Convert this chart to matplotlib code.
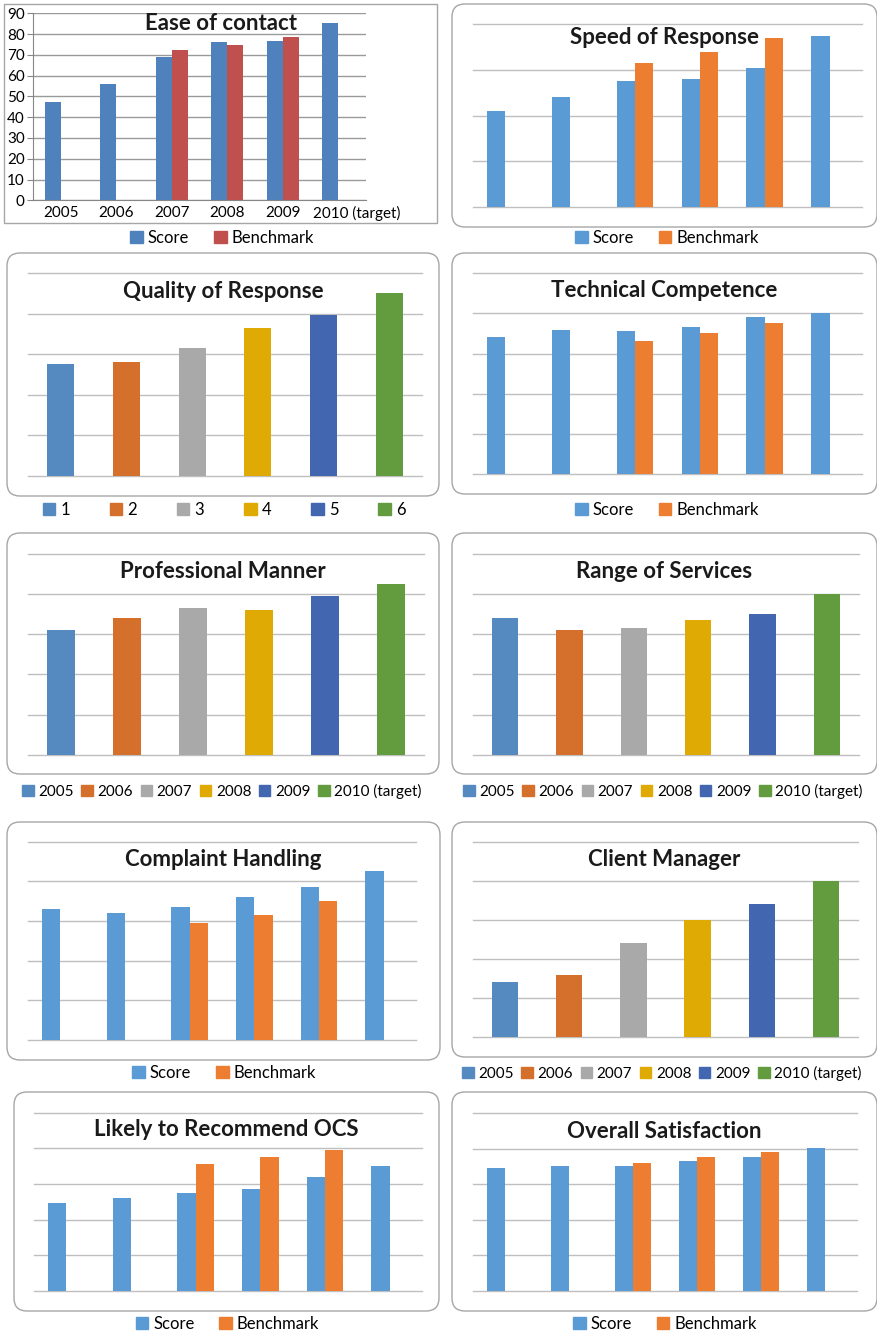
import numpy as np
import matplotlib
matplotlib.use("Agg")
import matplotlib.pyplot as plt
from matplotlib.patches import FancyBboxPatch, Rectangle, Patch

plt.rcParams['font.family'] = ['Lato', 'DejaVu Sans']

W, H = 878, 1335
nan = np.nan

# --- data -------------------------------------------------------------
years = ['2005', '2006', '2007', '2008', '2009', '2010 (target)']
numbers = ['1', '2', '3', '4', '5', '6']

ease_score = [47.3, 56.0, 69.0, 76.2, 76.7, 85.4]
ease_bench = [nan, nan, 72.4, 74.8, 78.6, nan]

speed_score = [42.0, 48.0, 55.0, 55.9, 60.8, 74.9]
speed_bench = [nan, nan, 62.9, 67.9, 73.9, nan]

quality = [55.2, 56.2, 63.1, 73.0, 79.4, 90.3]

tech_score = [68.2, 72.0, 71.1, 73.1, 78.1, 80.1]
tech_bench = [nan, nan, 66.2, 70.1, 75.1, nan]

manner = [62.0, 68.0, 73.0, 72.0, 78.9, 84.9]
services = [68.0, 62.0, 63.0, 67.0, 70.0, 79.9]

complaint_score = [66.0, 64.0, 67.0, 72.1, 76.9, 85.0]
complaint_bench = [nan, nan, 58.9, 63.0, 70.0, nan]

client = [28.3, 31.9, 48.3, 60.2, 68.3, 80.0]

recommend_score = [49.1, 51.9, 54.9, 56.9, 63.9, 70.0]
recommend_bench = [nan, nan, 71.0, 75.1, 78.8, nan]

overall_score = [69.0, 70.2, 70.2, 73.0, 75.2, 80.1]
overall_bench = [nan, nan, 72.0, 75.2, 78.0, nan]

# colours
SCORE = '#5b9bd5'
BENCH = '#ed7d31'
SCORE_07 = '#4f81bd'
BENCH_07 = '#c0504d'
year_colors = ['#558ac1', '#d4702c', '#a9a9a9', '#e0aa05', '#4266b0', '#639b3f']
GRID = '#bfbfbf'
FRAME = '#a6a6a6'

fig = plt.figure(figsize=(W / 100, H / 100), dpi=100)


def px_axes(x0, y0, x1, y1):
    return fig.add_axes([x0 / W, 1 - y1 / H, (x1 - x0) / W, (y1 - y0) / H])


def frame(x0, y0, x1, y1, rounded=True):
    # panel outline, in inches from the bottom-left corner
    if rounded:
        p = FancyBboxPatch((x0 / 100, (H - y1) / 100), (x1 - x0) / 100, (y1 - y0) / 100,
                           boxstyle="round,pad=0,rounding_size=0.13",
                           transform=fig.dpi_scale_trans, fc='none', ec=FRAME, lw=1.0)
    else:
        p = Rectangle((x0 / 100, (H - y1) / 100), (x1 - x0) / 100, (y1 - y0) / 100,
                      transform=fig.dpi_scale_trans, fc='none', ec=FRAME, lw=1.0)
    fig.add_artist(p)


def title(text, cx, cy):
    fig.text(cx / W, 1 - cy / H, text, ha='center', va='center',
             fontsize=16, fontweight='bold', color='#1a1a1a', zorder=10)


def legend(ax, handles, labels, cx, cy, colspace, size=12):
    ax.legend(handles, labels, loc='center', bbox_to_anchor=(cx / W, 1 - cy / H),
              bbox_transform=fig.transFigure, ncol=len(labels), frameon=False,
              fontsize=size, handlelength=0.75, handleheight=0.75, handletextpad=0.3,
              columnspacing=colspace, borderaxespad=0, borderpad=0)


def plain_axes(ax, top, step):
    ax.set_xlim(-0.5, 5.5)
    ax.set_ylim(0, top)
    for v in np.arange(0, top + step / 2, step):
        ax.axhline(v, color=GRID, lw=1.0, zorder=0, clip_on=False)
    ax.axis('off')


def pair_panel(box, axbox, name, tcy, score, bench, legy, legx, top=100):
    frame(*box)
    ax = px_axes(*axbox)
    x = np.arange(len(years))
    w = 0.283
    ax.bar(x - w / 2, score, w, color=SCORE, zorder=2)
    ax.bar(x + w / 2, bench, w, color=BENCH, zorder=2)
    plain_axes(ax, top, 20)
    title(name, (box[0] + box[2]) / 2, tcy)
    legend(ax, [Patch(color=SCORE), Patch(color=BENCH)], ['Score', 'Benchmark'],
           legx, legy, 1.5)


def year_panel(box, axbox, name, tcy, vals, labels, legy, legx, colspace, size=11):
    frame(*box)
    ax = px_axes(*axbox)
    x = np.arange(len(vals))
    ax.bar(x, vals, 0.41, color=year_colors, zorder=2)
    plain_axes(ax, 100, 20)
    title(name, (box[0] + box[2]) / 2, tcy)
    legend(ax, [Patch(color=c) for c in year_colors], labels, legx, legy, colspace, size)


# --- Ease of contact (with value axis) --------------------------------
frame(4, 4, 437, 223, rounded=False)
ax = px_axes(33, 13.3, 366, 200.3)
x = np.arange(len(years))
w = 0.29
ax.bar(x - w / 2, ease_score, w, color=SCORE_07, zorder=2)
ax.bar(x + w / 2, ease_bench, w, color=BENCH_07, zorder=2)
ax.set_xlim(-0.5, 5.5)
ax.set_ylim(0, 90)
ax.set_yticks(np.arange(0, 91, 10))
ax.yaxis.grid(True, color='#9a9a9a', lw=1.0)
ax.set_axisbelow(True)
# the long last label sits a little right of its bar
ax.set_xticks([0, 1, 2, 3, 4, 5.33])
ax.set_xticklabels(years)
ax.tick_params(axis='y', labelsize=11, length=4, color='#868686', pad=2)
ax.tick_params(axis='x', labelsize=11, length=0, pad=4)
for s in ['top', 'right']:
    ax.spines[s].set_visible(False)
for s in ['left', 'bottom']:
    ax.spines[s].set_color('#868686')
title('Ease of contact', 221, 23)
legend(ax, [Patch(color=SCORE_07), Patch(color=BENCH_07)], ['Score', 'Benchmark'],
       222, 238, 1.5)

# --- remaining panels -------------------------------------------------
pair_panel((452, 4, 877, 227), (473, 24.3, 862, 206.7), 'Speed of Response', 38,
           speed_score, speed_bench, 238, 667, top=80)

year_panel((7, 253, 439, 496), (28, 273.3, 422, 475.7), 'Quality of Response', 291.7,
           quality, numbers, 510, 224, 2.4, size=12)

pair_panel((452, 253, 877, 494), (473, 273.3, 862, 474.3), 'Technical Competence', 290.7,
           tech_score, tech_bench, 510, 667)

year_panel((7, 533, 439, 774), (28, 553.7, 424, 754.7), 'Professional Manner', 571.7,
           manner, years, 791.7, 222, 0.5)

year_panel((452, 533, 877, 774), (473, 553.7, 859, 754.7), 'Range of Services', 571.7,
           services, years, 791.7, 663, 0.5)

pair_panel((7, 822, 440, 1060), (28, 841.7, 416, 1039.7), 'Complaint Handling', 860,
           complaint_score, complaint_bench, 1072.7, 224)

year_panel((452, 822, 877, 1057), (473, 842, 858, 1037.3), 'Client Manager', 860,
           client, years, 1073.3, 662, 0.5)

pair_panel((14, 1092, 439, 1311), (34, 1112.7, 422, 1290.7), 'Likely to Recommend OCS', 1130,
           recommend_score, recommend_bench, 1324, 227.5)

pair_panel((452, 1092, 877, 1311), (473, 1113, 857, 1290.7), 'Overall Satisfaction', 1131,
           overall_score, overall_bench, 1324, 665)

fig.savefig('out.png', dpi=100)
